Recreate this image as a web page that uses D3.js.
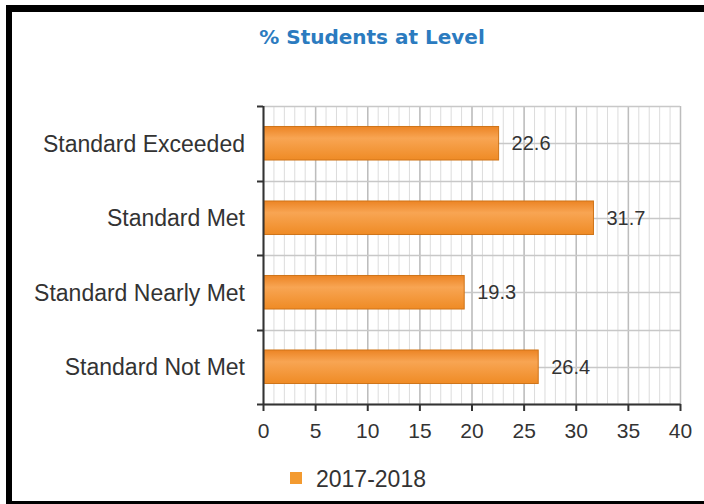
<!DOCTYPE html>
<html>
<head>
<meta charset="utf-8">
<script src="https://cdn.jsdelivr.net/npm/d3@7"></script>
<style>
  body { margin: 0; background: #fff; }
  svg { display: block; }
</style>
</head>
<body>
<svg width="704" height="504"></svg>
<script>
// data
var categories = ["Standard Exceeded", "Standard Met", "Standard Nearly Met", "Standard Not Met"];
var values = [22.6, 31.7, 19.3, 26.4];
var seriesName = "2017-2018";
var xTickValues = [0, 5, 10, 15, 20, 25, 30, 35, 40];

var svg = d3.select("svg");

// frame (left, top, bottom black edges)
svg.append("rect").attr("x", 6).attr("y", 5).attr("width", 6).attr("height", 499).attr("fill", "#000");
svg.append("rect").attr("x", 6).attr("y", 5).attr("width", 698).attr("height", 7).attr("fill", "#000");
svg.append("rect").attr("x", 6).attr("y", 501).attr("width", 698).attr("height", 3).attr("fill", "#000");

// plot area (note: "top" is a reserved window property, so use plot* names)
var plotLeft = 263, plotRight = 680, plotTop = 106, plotBottom = 404;

var x = d3.scaleLinear().domain([0, 40]).range([plotLeft, plotRight]);

// bands for the bars
var y = d3
  .scaleBand()
  .domain(categories)
  .range([plotTop, plotBottom])
  .paddingInner(0.55)
  .paddingOuter(0.275);

// bands without padding, used for grid and ticks
var yBand = d3.scaleBand().domain(categories).range([plotTop, plotBottom]);

var defs = svg.append("defs");
var grad = defs.append("linearGradient")
  .attr("id", "barGrad")
  .attr("x1", 0).attr("y1", 0).attr("x2", 0).attr("y2", 1);
grad.append("stop").attr("offset", "0%").attr("stop-color", "#ec8424");
grad.append("stop").attr("offset", "35%").attr("stop-color", "#f8a553");
grad.append("stop").attr("offset", "100%").attr("stop-color", "#ef8b25");

// title
svg.append("text")
  .attr("x", 372)
  .attr("y", 44)
  .attr("text-anchor", "middle")
  .attr("font-family", "DejaVu Sans, sans-serif")
  .attr("font-weight", "bold")
  .attr("font-size", "20px")
  .attr("fill", "#2b7bbf")
  .text("% Students at Level");

var grid = svg.append("g");

// minor vertical grid (every 1)
grid.selectAll("line.minor")
  .data(x.ticks(40))
  .enter()
  .append("line")
  .attr("class", "minor")
  .attr("x1", function (d) { return x(d) + 0.5; })
  .attr("x2", function (d) { return x(d) + 0.5; })
  .attr("y1", plotTop)
  .attr("y2", plotBottom)
  .attr("stroke", "#dcdcdc")
  .attr("stroke-width", 1);

// major vertical grid (every 5)
grid.selectAll("line.major")
  .data(xTickValues)
  .enter()
  .append("line")
  .attr("class", "major")
  .attr("x1", function (d) { return x(d) + 0.5; })
  .attr("x2", function (d) { return x(d) + 0.5; })
  .attr("y1", plotTop)
  .attr("y2", plotBottom)
  .attr("stroke", "#bdbdbd")
  .attr("stroke-width", 1.5);

// horizontal grid at band edges and centres
var hLines = [];
categories.forEach(function (c) {
  hLines.push(yBand(c));
  hLines.push(yBand(c) + yBand.bandwidth() / 2);
});
hLines.push(plotBottom);
grid.selectAll("line.h")
  .data(hLines)
  .enter()
  .append("line")
  .attr("class", "h")
  .attr("x1", plotLeft)
  .attr("x2", plotRight)
  .attr("y1", function (d) { return Math.round(d) + 0.5; })
  .attr("y2", function (d) { return Math.round(d) + 0.5; })
  .attr("stroke", "#c8c8c8")
  .attr("stroke-width", 1.5);

// bars
svg.selectAll("rect.bar")
  .data(values)
  .enter()
  .append("rect")
  .attr("class", "bar")
  .attr("x", x(0) + 1)
  .attr("y", function (d, i) { return y(categories[i]); })
  .attr("width", function (d) { return x(d) - x(0) - 1; })
  .attr("height", y.bandwidth())
  .attr("fill", "url(#barGrad)")
  .attr("stroke", "#cf7419")
  .attr("stroke-width", 1);

// value labels
svg.selectAll("text.val")
  .data(values)
  .enter()
  .append("text")
  .attr("class", "val")
  .attr("x", function (d) { return x(d) + 13; })
  .attr("y", function (d, i) { return y(categories[i]) + y.bandwidth() / 2; })
  .attr("dy", "0.36em")
  .attr("font-family", "Liberation Sans, Arial, sans-serif")
  .attr("font-size", "20px")
  .attr("fill", "#333")
  .text(function (d) { return d; });

// y axis: line + ticks at band edges
var yAxis = svg.append("g");
yAxis.append("line")
  .attr("x1", plotLeft + 0.5).attr("x2", plotLeft + 0.5)
  .attr("y1", plotTop).attr("y2", plotBottom)
  .attr("stroke", "#333").attr("stroke-width", 2);
var edges = categories.map(function (c) { return yBand(c); }).concat([plotBottom]);
yAxis.selectAll("line.tick")
  .data(edges)
  .enter()
  .append("line")
  .attr("class", "tick")
  .attr("x1", plotLeft - 6).attr("x2", plotLeft)
  .attr("y1", function (d) { return Math.round(d) + 0.5; })
  .attr("y2", function (d) { return Math.round(d) + 0.5; })
  .attr("stroke", "#333").attr("stroke-width", 2);

// category labels
svg.selectAll("text.cat")
  .data(categories)
  .enter()
  .append("text")
  .attr("class", "cat")
  .attr("x", 245)
  .attr("y", function (d) { return yBand(d) + yBand.bandwidth() / 2; })
  .attr("dy", "0.36em")
  .attr("text-anchor", "end")
  .attr("font-family", "Liberation Sans, Arial, sans-serif")
  .attr("font-size", "23px")
  .attr("fill", "#333")
  .text(function (d) { return d; });

// x axis
var xAxis = svg.append("g")
  .attr("transform", "translate(0," + plotBottom + ")")
  .call(d3.axisBottom(x).tickValues(xTickValues).tickSize(7).tickSizeOuter(0).tickPadding(12));
xAxis.select(".domain").attr("stroke", "#333").attr("stroke-width", 2);
xAxis.selectAll(".tick line").attr("stroke", "#333").attr("stroke-width", 2);
xAxis.selectAll(".tick text")
  .attr("font-family", "Liberation Sans, Arial, sans-serif")
  .attr("font-size", "21px")
  .attr("fill", "#333");

// legend
svg.append("rect")
  .attr("x", 290).attr("y", 472)
  .attr("width", 12).attr("height", 12)
  .attr("fill", "#f39a30");
svg.append("text")
  .attr("x", 316).attr("y", 479)
  .attr("dy", "0.36em")
  .attr("font-family", "Liberation Sans, Arial, sans-serif")
  .attr("font-size", "23px")
  .attr("fill", "#333")
  .text(seriesName);
</script>
</body>
</html>
